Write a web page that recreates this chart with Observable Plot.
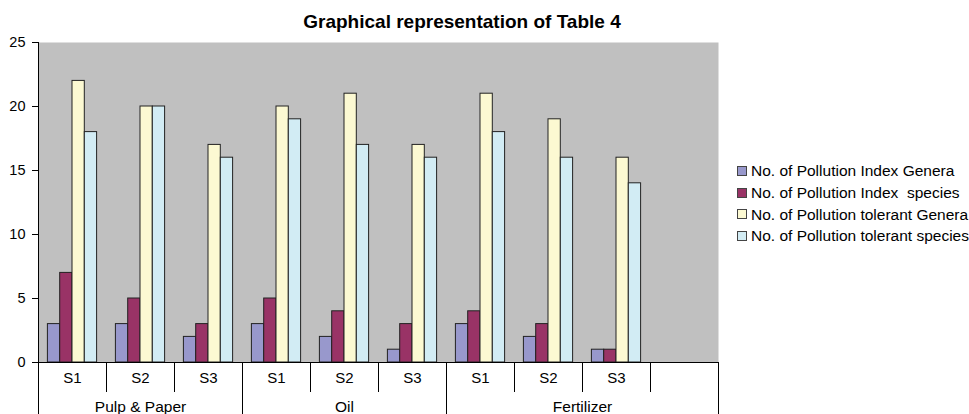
<!DOCTYPE html>
<html><head><meta charset="utf-8">
<script src="https://cdn.jsdelivr.net/npm/d3@7"></script>
<script src="https://cdn.jsdelivr.net/npm/@observablehq/plot@0.6"></script>
<style>
body{margin:0;background:#fff;font-family:"Liberation Sans",Arial,sans-serif;}
#wrap{position:relative;width:969px;height:414px;overflow:hidden;background:#fff;}
#title{position:absolute;left:0;top:12px;width:924px;height:19px;line-height:19px;text-align:center;font-weight:bold;font-size:19px;color:#000;z-index:2;}
#chart{position:absolute;left:0;top:30px;}
#legend{position:absolute;left:737px;top:160px;font-size:15.5px;color:#000;}
.row{height:21.8px;line-height:21.8px;white-space:nowrap;display:flex;align-items:center;}
.sw{width:8px;height:8px;border:1px solid #444;margin-right:4px;flex:none;}
</style></head><body>
<div id="wrap"><div id="title">Graphical representation of Table 4</div><div id="chart"></div><div id="legend"></div></div>
<script>
const industries = ["Pulp & Paper", "Oil", "Fertilizer"];
const sites = ["S1", "S2", "S3"];
const seriesNames = [
  "No. of Pollution Index Genera",
  "No. of Pollution Index  species",
  "No. of Pollution tolerant Genera",
  "No. of Pollution tolerant species"
];
const indexGenera    = [3, 3, 2, 3, 2, 1, 3, 2, 1];
const indexSpecies   = [7, 5, 3, 5, 4, 3, 4, 3, 1];
const tolerantGenera = [22, 20, 17, 20, 21, 17, 21, 19, 16];
const tolerantSpecies= [18, 20, 16, 19, 17, 16, 18, 16, 14];
const seriesColors = ["#9898cc", "#993366", "#fcf9d2", "#d2ecf4"];
const yTicks = [0, 5, 10, 15, 20, 25];

const seriesValues = [indexGenera, indexSpecies, tolerantGenera, tolerantSpecies];
const slotRows = industries.flatMap(ind => sites.map(s => ({industry: ind, site: s, slot: ind + "|" + s})));
const emptySlot = "Fertilizer|";
const slots = [...slotRows.map(d => d.slot), emptySlot];
const groupEnds = ["Pulp & Paper|S3", "Oil|S3", emptySlot];

const bandW = 68, padL = 9.4, barW = 12.3;
const barMarks = seriesNames.map((name, j) =>
  Plot.barY(slotRows.map((d, i) => ({slot: d.slot, value: seriesValues[j][i]})), {
    x: "slot", y: "value", fill: seriesColors[j], stroke: "#222", strokeWidth: 1,
    insetLeft: padL + barW * j, insetRight: bandW - padL - barW * (j + 1)
  })
);

const chart = Plot.plot({
  width: 969, height: 384,
  marginLeft: 38, marginRight: 251, marginTop: 12, marginBottom: 52,
  style: {fontFamily: "Liberation Sans, Arial, sans-serif", fontSize: "15px", color: "#000", background: "transparent", overflow: "visible"},
  x: {domain: slots, padding: 0, axis: null, label: null},
  y: {domain: [0, 25], axis: null, label: null},
  marks: [
    Plot.frame({fill: "#c0c0c0", stroke: null}),
    ...barMarks,
    Plot.ruleY([0], {stroke: "#000"}),
    Plot.ruleX([slots[0]], {x: d => d, dx: -bandW / 2, y1: 0, y2: 25, stroke: "#000"}),
    Plot.axisY(yTicks, {tickSize: 6, tickPadding: 7, fontSize: 14.5, stroke: "#000", fill: "#000", label: null}),
    Plot.axisX(slots, {tickSize: 30, dx: bandW / 2, tickFormat: () => "", stroke: "#000", label: null}),
    Plot.axisX(groupEnds, {tickSize: 52, dx: bandW / 2, tickFormat: () => "", stroke: "#000", label: null}),
    Plot.axisX([slots[0]], {tickSize: 52, dx: -bandW / 2, tickFormat: () => "", stroke: "#000", label: null}),
    Plot.text(slotRows, {x: "slot", text: "site", frameAnchor: "bottom", dy: 20, fontSize: 15, fill: "#000"}),
    Plot.text(industries.slice(0, 2), {x: d => d + "|S2", text: d => d, frameAnchor: "bottom", dy: 49, fontSize: 15.5, fill: "#000"}),
    Plot.text(industries.slice(2), {x: d => d + "|S2", text: d => d, dx: bandW / 2, frameAnchor: "bottom", dy: 49, fontSize: 15.5, fill: "#000"})
  ]
});
document.getElementById("chart").appendChild(chart);

const legend = document.getElementById("legend");
seriesNames.forEach((name, j) => {
  const row = document.createElement("div");
  row.className = "row";
  const sw = document.createElement("span");
  sw.className = "sw";
  sw.style.background = seriesColors[j];
  const t = document.createElement("span");
  t.textContent = name;
  t.style.whiteSpace = "pre";
  row.appendChild(sw); row.appendChild(t);
  legend.appendChild(row);
});
</script>
</body></html>
